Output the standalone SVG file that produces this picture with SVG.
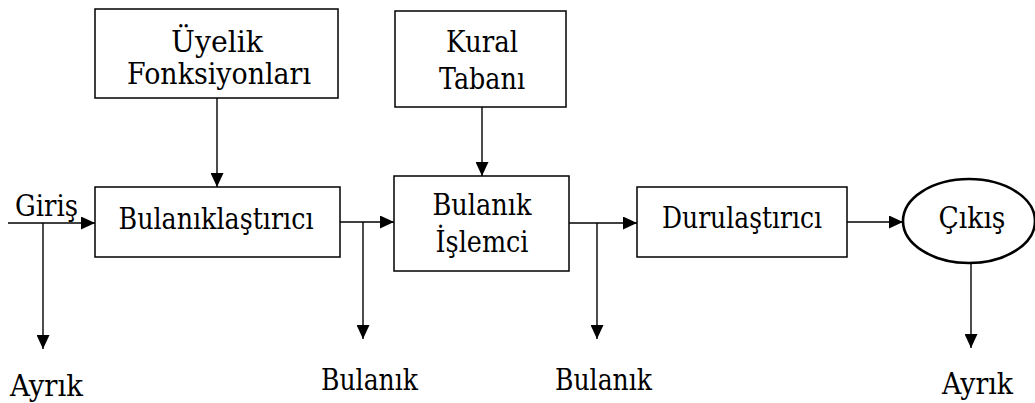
<svg xmlns="http://www.w3.org/2000/svg" width="1035" height="403" viewBox="0 0 1035 403">
  <style>
    .box { fill: #fff; stroke: #000; stroke-width: 1.5; }
    .oval { fill: #fff; stroke: #000; stroke-width: 2.6; }
    .wire { fill: none; stroke: #000; stroke-width: 1.4; }
    text { font-family: 'DejaVu Serif', 'Liberation Serif', serif; font-size: 29px; fill: #000; }
    .big { font-size: 30px; }
    .mid { text-anchor: middle; }
  </style>
  <defs>
    <marker id="head" markerUnits="userSpaceOnUse" markerWidth="15" markerHeight="13" refX="14" refY="6.5" orient="auto">
      <path d="M0,0 L14,6.5 L0,13 z" fill="#000"/>
    </marker>
  </defs>
  <rect width="1035" height="403" fill="#fff"/>

  <!-- connectors -->
  <g id="connectors">
    <line class="wire" x1="8" y1="223" x2="95" y2="223" marker-end="url(#head)"/>
    <line class="wire" x1="43" y1="223" x2="43" y2="349" marker-end="url(#head)"/>
    <line class="wire" x1="217" y1="98" x2="217" y2="187" marker-end="url(#head)"/>
    <line class="wire" x1="482" y1="107" x2="482" y2="176" marker-end="url(#head)"/>
    <line class="wire" x1="340" y1="222" x2="394" y2="222" marker-end="url(#head)"/>
    <line class="wire" x1="363" y1="222" x2="363" y2="339" marker-end="url(#head)"/>
    <line class="wire" x1="569" y1="223" x2="637" y2="223" marker-end="url(#head)"/>
    <line class="wire" x1="597" y1="223" x2="597" y2="339" marker-end="url(#head)"/>
    <line class="wire" x1="847" y1="222" x2="903" y2="222" marker-end="url(#head)"/>
    <line class="wire" x1="971" y1="263" x2="971" y2="348" marker-end="url(#head)"/>
  </g>

  <g id="uyelik">
    <rect class="box" x="95" y="9" width="243" height="89"/>
    <text class="mid big" x="217" y="52" textLength="92" lengthAdjust="spacingAndGlyphs">Üyelik</text>
    <text class="mid big" x="219" y="84" textLength="184" lengthAdjust="spacingAndGlyphs">Fonksiyonları</text>
  </g>

  <g id="kural">
    <rect class="box" x="395" y="11" width="171" height="96"/>
    <text class="mid" x="482" y="52" textLength="72" lengthAdjust="spacingAndGlyphs">Kural</text>
    <text class="mid" x="482" y="89" textLength="86" lengthAdjust="spacingAndGlyphs">Tabanı</text>
  </g>

  <g id="bulaniklastirici">
    <rect class="box" x="95" y="187" width="245" height="70"/>
    <text class="mid" x="216" y="229" textLength="195" lengthAdjust="spacingAndGlyphs">Bulanıklaştırıcı</text>
  </g>

  <g id="islemci">
    <rect class="box" x="394" y="176" width="175" height="95"/>
    <text class="mid" x="482" y="215" textLength="99" lengthAdjust="spacingAndGlyphs">Bulanık</text>
    <text class="mid" x="482" y="252" textLength="93" lengthAdjust="spacingAndGlyphs">İşlemci</text>
  </g>

  <g id="durulastirici">
    <rect class="box" x="637" y="187" width="210" height="70"/>
    <text class="mid" x="742" y="228" textLength="160" lengthAdjust="spacingAndGlyphs">Durulaştırıcı</text>
  </g>

  <g id="cikis">
    <ellipse class="oval" cx="969" cy="221" rx="66" ry="42"/>
    <text class="mid" x="972" y="228" textLength="67" lengthAdjust="spacingAndGlyphs">Çıkış</text>
  </g>

  <g id="labels">
    <text x="15" y="216" textLength="63" lengthAdjust="spacingAndGlyphs">Giriş</text>
    <text x="10" y="396" textLength="73" lengthAdjust="spacingAndGlyphs">Ayrık</text>
    <text x="321" y="390" textLength="97" lengthAdjust="spacingAndGlyphs">Bulanık</text>
    <text x="555" y="390" textLength="97" lengthAdjust="spacingAndGlyphs">Bulanık</text>
    <text x="942" y="394" textLength="71" lengthAdjust="spacingAndGlyphs">Ayrık</text>
  </g>
</svg>
